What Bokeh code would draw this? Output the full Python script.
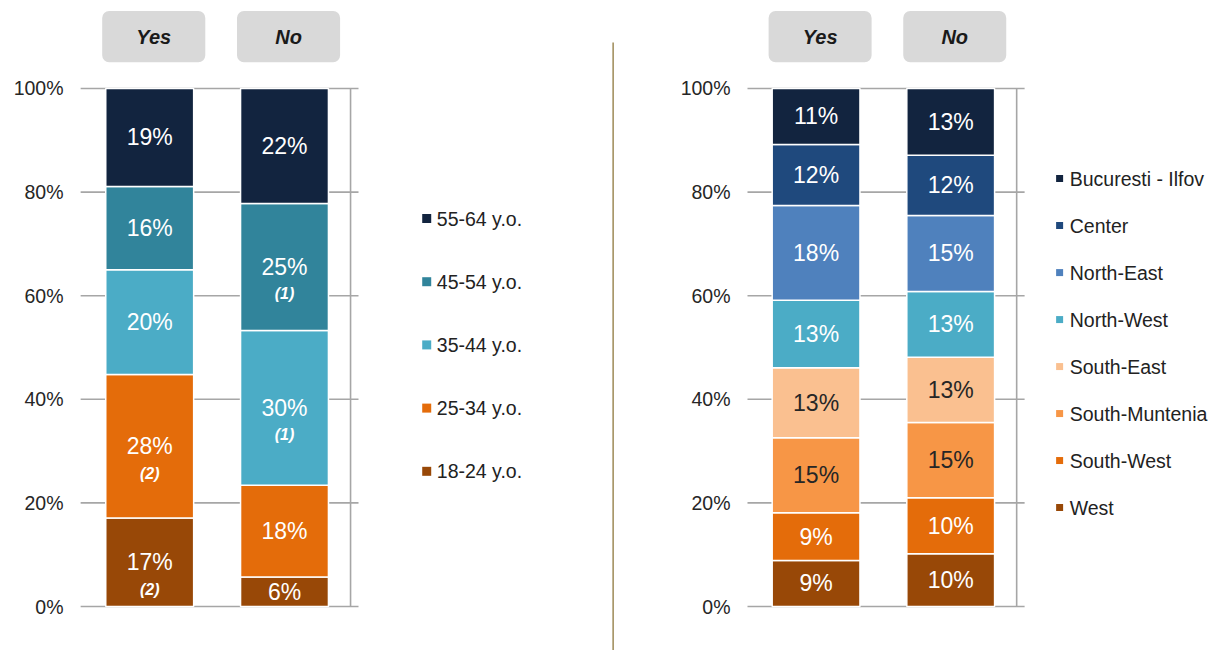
from bokeh.plotting import figure
from bokeh.layouts import row
from bokeh.models import FixedTicker, Range1d
from bokeh.core.properties import value
from bokeh.embed import file_html
from bokeh.resources import INLINE

FONT = "Liberation Sans"

# ---------------- data ----------------
groups = ["Yes", "No"]
ticks = [0, 20, 40, 60, 80, 100]

# left panel: age groups (bottom -> top)
age_series = ["18-24 y.o.", "25-34 y.o.", "35-44 y.o.", "45-54 y.o.", "55-64 y.o."]
age_yes = [17.1, 27.7, 20.2, 16.1, 18.9]
age_no = [5.7, 17.7, 29.9, 24.5, 22.2]
age_yes_labels = ["17%", "28%", "20%", "16%", "19%"]
age_no_labels = ["6%", "18%", "30%", "25%", "22%"]
age_yes_notes = ["(2)", "(2)", "", "", ""]
age_no_notes = ["", "", "(1)", "(1)", ""]
age_colors = ["#984807", "#e46c0a", "#4bacc6", "#31849b", "#12243f"]
age_text_colors = ["white"] * 5

# right panel: regions (bottom -> top)
reg_series = ["West", "South-West", "South-Muntenia", "South-East",
              "North-West", "North-East", "Center", "Bucuresti - Ilfov"]
reg_yes = [8.9, 9.2, 14.5, 13.5, 13.0, 18.3, 11.8, 10.8]
reg_no = [10.2, 10.8, 14.5, 12.6, 12.7, 14.7, 11.6, 12.9]
reg_yes_labels = ["9%", "9%", "15%", "13%", "13%", "18%", "12%", "11%"]
reg_no_labels = ["10%", "10%", "15%", "13%", "13%", "15%", "12%", "13%"]
reg_notes = [""] * 8
reg_colors = ["#984807", "#e46c0a", "#f79646", "#fac090",
              "#4bacc6", "#4f81bd", "#1f497d", "#12243f"]
reg_text_colors = ["white", "white", "#262626", "#262626",
                   "white", "white", "white", "white"]

Y0, Y1 = -8.49, 115.44
BAR_W = 0.652


def panel(width, mbl, x0, x1, series, vals, labels, notes, colors, tcolors,
          legend_x, legend_top, legend_step, msize, divider_x=None):
    p = figure(width=width, height=650, x_range=Range1d(x0, x1), y_range=Range1d(Y0, Y1),
               x_axis_location=None, toolbar_location=None, output_backend="svg",
               min_border_left=mbl, min_border_right=0, min_border_top=8, min_border_bottom=0)
    p.grid.visible = False
    p.outline_line_color = None
    ax = p.yaxis[0]
    ax.ticker = FixedTicker(ticks=ticks)
    ax.major_label_overrides = {t: f"{t}%" for t in ticks}
    ax.axis_line_color = None
    ax.major_tick_line_color = None
    ax.minor_tick_line_color = None
    ax.major_tick_out = 0
    ax.major_tick_in = 0
    ax.major_label_standoff = 17
    ax.major_label_text_font = FONT
    ax.major_label_text_font_size = "19.5px"
    ax.major_label_text_color = "#262626"

    # gridlines and right axis line
    n = len(ticks)
    p.segment(x0=[-0.515] * n, x1=[1.549] * n, y0=ticks, y1=ticks,
              line_color="#a6a6a6", line_width=1.6)
    p.segment(x0=[1.49], x1=[1.49], y0=[ticks[0]], y1=[ticks[-1]],
              line_color="#a6a6a6", line_width=1.6)

    xs = list(range(len(groups)))
    bottoms = [0.0] * len(groups)
    for i, name in enumerate(series):
        tops = [bottoms[g] + vals[g][i] for g in xs]
        mids = [(bottoms[g] + tops[g]) / 2 for g in xs]
        p.vbar(x=xs, bottom=bottoms, top=tops, width=BAR_W, fill_color=colors[i],
               line_color="white", line_width=1.5)
        p.text(x=xs, y=mids, text=[labels[g][i] for g in xs], text_align="center",
               text_baseline="middle", text_font=value(FONT), text_font_size="23px",
               text_color=tcolors[i])
        nts = [notes[g][i] for g in xs]
        if any(nts):
            p.text(x=xs, y=mids, text=nts, y_offset=27, text_align="center",
                   text_baseline="middle", text_font=value(FONT), text_font_size="16px",
                   text_font_style="bold italic", text_color=tcolors[i])
        bottoms = tops

    # header boxes
    hx = [g + 0.03 for g in xs]
    p.rect(x=hx, y=[110] * len(xs), width=0.765, height=9.9, fill_color="#d9d9d9",
           line_color=None, border_radius=7)
    p.text(x=hx, y=[110] * len(xs), text=groups, text_align="center", text_baseline="middle",
           text_font=value(FONT), text_font_size="20px", text_font_style="bold italic",
           text_color="#1a1a1a")

    # legend (top -> bottom)
    rev = list(range(len(series)))[::-1]
    ly = [legend_top - k * legend_step for k in range(len(series))]
    p.scatter(x=[legend_x] * len(series), y=ly, marker="square", size=msize,
              fill_color=[colors[i] for i in rev], line_color=None)
    p.text(x=[legend_x + 0.075] * len(series), y=ly, text=[series[i] for i in rev],
           text_align="left", text_baseline="middle", text_font=value(FONT),
           text_font_size="19.5px", text_color="#222222")

    if divider_x is not None:
        p.segment(x0=[divider_x], x1=[divider_x], y0=[108.9], y1=[Y0],
                  line_color="#a39161", line_width=1.6)
    return p


p1 = panel(640, 80, -0.5134, 3.641, age_series, [age_yes, age_no],
           [age_yes_labels, age_no_labels], [age_yes_notes, age_no_notes],
           age_colors, age_text_colors, 2.055, 74.9, 12.2, 9, divider_x=3.438)
p2 = panel(573, 107, -0.5093, 2.952, reg_series, [reg_yes, reg_no],
           [reg_yes_labels, reg_no_labels], [reg_notes, reg_notes],
           reg_colors, reg_text_colors, 1.809, 82.6, 9.07, 7)

layout = row(p1, p2)
open("out.html", "w").write(file_html(layout, INLINE))
